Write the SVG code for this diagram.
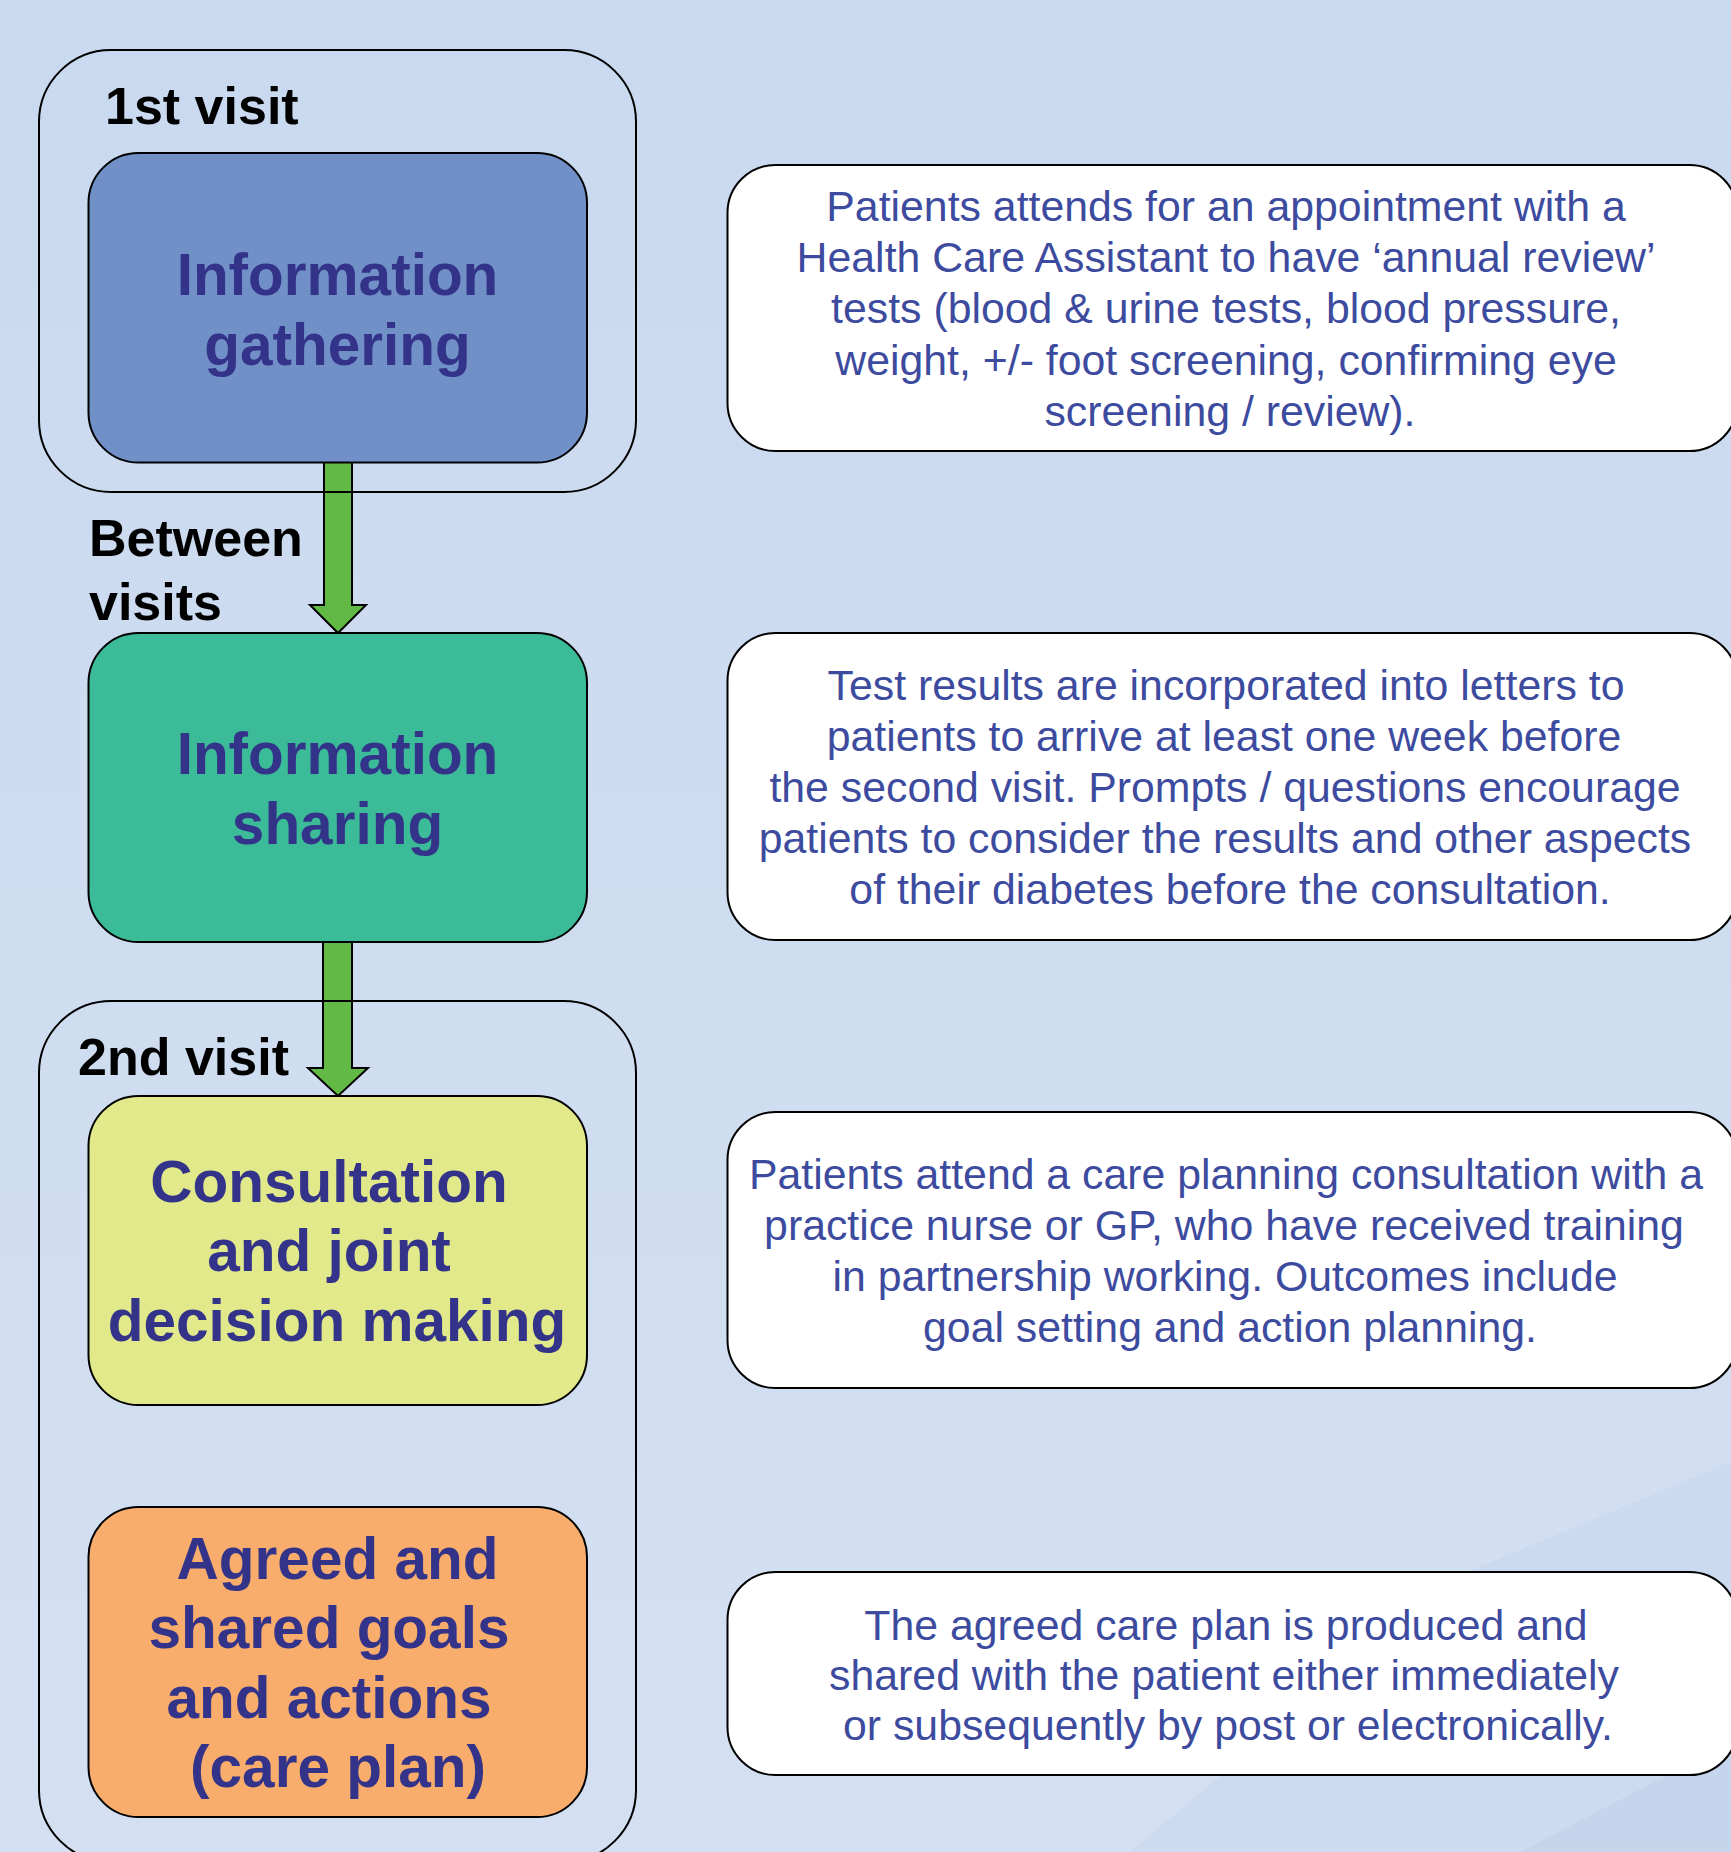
<svg xmlns="http://www.w3.org/2000/svg" width="1731" height="1852" viewBox="0 0 1731 1852">
  <defs>
    <linearGradient id="bg" x1="0" y1="0" x2="0" y2="1">
      <stop offset="0" stop-color="#c9d9ef"/>
      <stop offset="1" stop-color="#d4e0f2"/>
    </linearGradient>
    <style>
      .group { fill: none; stroke: #000; stroke-width: 2; }
      .step { stroke: #000; stroke-width: 2; }
      .step-text { font-family: "Liberation Sans", Arial, sans-serif; font-weight: bold; font-size: 58.5px; fill: #333389; text-anchor: middle; }
      .label { font-family: "Liberation Sans", Arial, sans-serif; font-weight: bold; font-size: 52px; fill: #000; }
      .note { fill: #fff; stroke: #000; stroke-width: 2; }
      .note-text { font-family: "Liberation Sans", Arial, sans-serif; font-size: 42.8px; fill: #3d4b9f; text-anchor: middle; }
      .flow { fill: #62b946; stroke: #000; stroke-width: 2; stroke-linejoin: miter; }
    </style>
  </defs>

  <!-- backdrop -->
  <rect x="0" y="0" width="1731" height="1852" fill="url(#bg)"/>
  <polygon points="1731,1462 1460,1575 1130,1852 1731,1852" fill="#c6d6ee" opacity="0.5"/>
  <polygon points="1731,1742 1520,1852 1731,1852" fill="#bfd0ea" opacity="0.6"/>

  <!-- connectors -->
  <g id="connectors">
    <polygon class="flow" points="324,462 352,462 352,605 366,605 338,633 310,605 324,605"/>
    <polygon class="flow" points="323,942 352,942 352,1068 368,1068 338,1096 308,1068 323,1068"/>
  </g>

  <!-- visit groupings -->
  <g id="visit1">
    <rect class="group" x="39" y="50" width="597" height="442" rx="72" ry="72"/>
    <text class="label" x="105" y="124">1st visit</text>
  </g>
  <g id="between">
    <text class="label" x="89" y="556">Between</text>
    <text class="label" x="89" y="620">visits</text>
  </g>
  <g id="visit2">
    <rect class="group" x="39" y="1001" width="597" height="861" rx="72" ry="72"/>
    <text class="label" x="78" y="1075">2nd visit</text>
  </g>

  <!-- process steps -->
  <g id="step-gathering">
    <rect class="step" x="88.5" y="153" width="498.5" height="309.5" rx="50" ry="50" fill="#7290c8"/>
    <text class="step-text" x="337.5" y="295">Information</text>
    <text class="step-text" x="337.5" y="365">gathering</text>
  </g>
  <g id="step-sharing">
    <rect class="step" x="88.5" y="633" width="498.5" height="309" rx="50" ry="50" fill="#3cbb98"/>
    <text class="step-text" x="337.5" y="774">Information</text>
    <text class="step-text" x="337.5" y="844">sharing</text>
  </g>
  <g id="step-consultation">
    <rect class="step" x="88.5" y="1096" width="498.5" height="309" rx="50" ry="50" fill="#e2e98a"/>
    <text class="step-text" x="329" y="1202">Consultation</text>
    <text class="step-text" x="329" y="1271">and joint</text>
    <text class="step-text" x="337" y="1341">decision making</text>
  </g>
  <g id="step-careplan">
    <rect class="step" x="88.5" y="1507" width="498.5" height="310" rx="50" ry="50" fill="#f8ad6c"/>
    <text class="step-text" x="337.5" y="1579">Agreed and</text>
    <text class="step-text" x="329" y="1648">shared goals</text>
    <text class="step-text" x="329" y="1718">and actions</text>
    <text class="step-text" x="338" y="1787">(care plan)</text>
  </g>

  <!-- explanatory notes -->
  <g id="note-gathering">
    <rect class="note" x="727.5" y="165" width="1010" height="286" rx="48" ry="48"/>
    <text class="note-text" x="1226" y="221">Patients attends for an appointment with a</text>
    <text class="note-text" x="1226" y="272">Health Care Assistant to have ‘annual review’</text>
    <text class="note-text" x="1226" y="323">tests (blood &amp; urine tests, blood pressure,</text>
    <text class="note-text" x="1226" y="375">weight, +/- foot screening, confirming eye</text>
    <text class="note-text" x="1230" y="426">screening / review).</text>
  </g>
  <g id="note-sharing">
    <rect class="note" x="727.5" y="633" width="1010" height="307" rx="48" ry="48"/>
    <text class="note-text" x="1226" y="700">Test results are incorporated into letters to</text>
    <text class="note-text" x="1224" y="751">patients to arrive at least one week before</text>
    <text class="note-text" x="1225" y="802">the second visit. Prompts / questions encourage</text>
    <text class="note-text" x="1225" y="853">patients to consider the results and other aspects</text>
    <text class="note-text" x="1230" y="904">of their diabetes before the consultation.</text>
  </g>
  <g id="note-consultation">
    <rect class="note" x="727.5" y="1112" width="1010" height="276" rx="48" ry="48"/>
    <text class="note-text" x="1226" y="1189">Patients attend a care planning consultation with a</text>
    <text class="note-text" x="1224" y="1240">practice nurse or GP, who have received training</text>
    <text class="note-text" x="1225" y="1291">in partnership working. Outcomes include</text>
    <text class="note-text" x="1230" y="1342">goal setting and action planning.</text>
  </g>
  <g id="note-careplan">
    <rect class="note" x="727.5" y="1572" width="1010" height="203" rx="48" ry="48"/>
    <text class="note-text" x="1226" y="1640">The agreed care plan is produced and</text>
    <text class="note-text" x="1224" y="1690">shared with the patient either immediately</text>
    <text class="note-text" x="1228" y="1740">or subsequently by post or electronically.</text>
  </g>
</svg>
